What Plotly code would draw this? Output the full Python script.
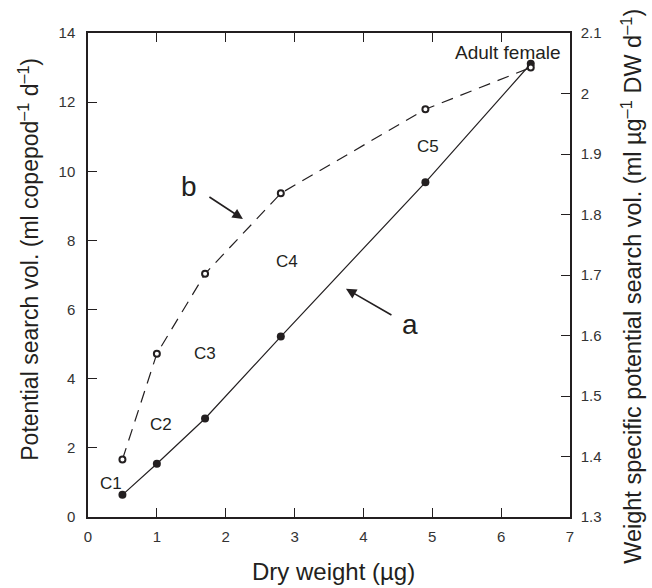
import plotly.graph_objects as go

dry_weight = [0.5, 1.0, 1.7, 2.8, 4.9, 6.43]
search_vol = [0.64, 1.54, 2.85, 5.22, 9.68, 13.11]          # a, left axis
weight_specific = [1.395, 1.570, 1.702, 1.835, 1.974, 2.043]  # b, right axis
stage_labels = ["C1", "C2", "C3", "C4", "C5", "Adult female"]
stage_label_x = [0.33, 1.065, 1.70, 2.89, 4.94, 6.10]
stage_label_y = [0.98, 2.68, 4.73, 7.38, 10.72, 13.45]

FONT = "Liberation Sans, Arial, Helvetica, sans-serif"
INK = "#231f20"

fig = go.Figure()
fig.add_trace(go.Scatter(
    x=dry_weight, y=search_vol, mode="lines+markers",
    line=dict(color=INK, width=1.2),
    marker=dict(symbol="circle", size=8, color=INK),
    showlegend=False, cliponaxis=False))
fig.add_trace(go.Scatter(
    x=dry_weight, y=weight_specific, mode="lines+markers", yaxis="y2",
    line=dict(color=INK, width=1.2, dash="12px,8px"),
    marker=dict(symbol="circle", size=6, color="white", line=dict(color=INK, width=2)),
    showlegend=False, cliponaxis=False))

ann = []
for lab, lx, ly in zip(stage_labels, stage_label_x, stage_label_y):
    ann.append(dict(x=lx, y=ly, xref="x", yref="y", text=lab, showarrow=False,
                    xanchor="center", yanchor="middle",
                    font=dict(family=FONT, size=19 if lab == "Adult female" else 17, color=INK)))

# arrows
ann.append(dict(x=2.25, y=8.62, xref="x", yref="y", ax=-35, ay=-23, axref="pixel", ayref="pixel",
                text="", showarrow=True, arrowhead=2, arrowsize=1.3, arrowwidth=1.6, arrowcolor=INK))
ann.append(dict(x=1.47, y=9.56, xref="x", yref="y", text="b", showarrow=False,
                xanchor="center", yanchor="middle",
                font=dict(family=FONT, size=28, color=INK)))
ann.append(dict(x=3.746, y=6.6, xref="x", yref="y", ax=47, ay=27, axref="pixel", ayref="pixel",
                text="", showarrow=True, arrowhead=2, arrowsize=1.3, arrowwidth=1.6, arrowcolor=INK))
ann.append(dict(x=4.68, y=5.56, xref="x", yref="y", text="a", showarrow=False,
                xanchor="center", yanchor="middle",
                font=dict(family=FONT, size=28, color=INK)))

# axis titles
ann.append(dict(x=-0.124, y=0.532, xref="paper", yref="paper", textangle=-90, showarrow=False,
                xanchor="center", yanchor="middle",
                text="Potential search vol. (ml copepod<sup>–1</sup> d<sup>–1</sup>)",
                font=dict(family=FONT, size=23, color=INK)))
ann.append(dict(x=1.127, y=0.476, xref="paper", yref="paper", textangle=-90, showarrow=False,
                xanchor="center", yanchor="middle",
                text="Weight specific potential search vol. (ml µg<sup>–1</sup> DW d<sup>–1</sup>)",
                font=dict(family=FONT, size=23.5, color=INK)))
ann.append(dict(x=0.51, y=-0.112, xref="paper", yref="paper", showarrow=False,
                xanchor="center", yanchor="middle",
                text="Dry weight (µg)", font=dict(family=FONT, size=24, color=INK)))

axis_common = dict(showgrid=False, zeroline=False, showline=True, linecolor=INK, linewidth=1.5,
                   ticks="inside", ticklen=9, tickwidth=1.2, tickcolor=INK,
                   tickfont=dict(family=FONT, size=15, color="#333"))

fig.update_layout(
    width=652, height=588, autosize=False,
    margin=dict(l=88, r=82, t=33, b=71),
    paper_bgcolor="white", plot_bgcolor="white",
    xaxis=dict(range=[0, 7], dtick=1, mirror="ticks", ticklabelstandoff=5, **axis_common),
    yaxis=dict(range=[0, 14], dtick=2, ticklabelstandoff=8, **axis_common),
    yaxis2=dict(range=[1.3, 2.1], dtick=0.1, overlaying="y", side="right",
                ticklabelstandoff=6, **axis_common),
    annotations=ann,
)
fig.write_html("out.html", config={"displayModeBar": False},
               post_script="document.body.style.margin='0';")
